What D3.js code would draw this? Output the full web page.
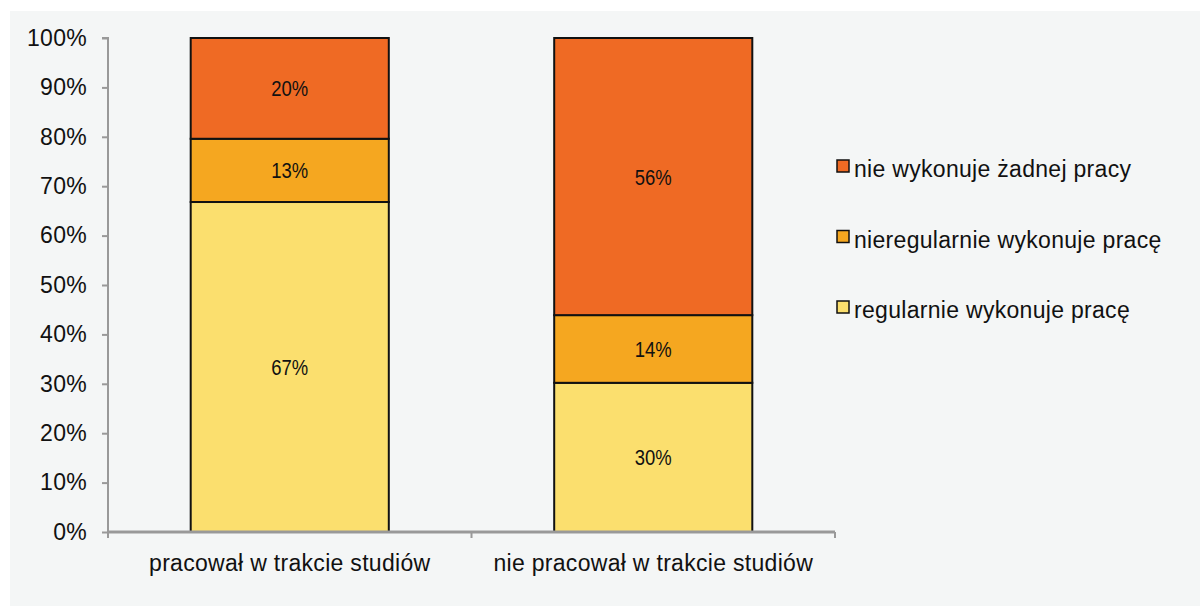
<!DOCTYPE html>
<html><head><meta charset="utf-8">
<script src="https://cdn.jsdelivr.net/npm/d3@7"></script>
<style>html,body{margin:0;padding:0;background:#fff;}</style>
</head><body>
<svg id="c" width="1200" height="606"></svg>
<script>
const categories = ["pracował w trakcie studiów", "nie pracował w trakcie studiów"];
const seriesNames = ["regularnie wykonuje pracę", "nieregularnie wykonuje pracę", "nie wykonuje żadnej pracy"];
const regular = [66.8, 30.2];
const irregular = [12.8, 13.7];
const none = [20.4, 56.1];
const labelsRegular = ["67%", "30%"];
const labelsIrregular = ["13%", "14%"];
const labelsNone = ["20%", "56%"];
const yTicks = [0, 10, 20, 30, 40, 50, 60, 70, 80, 90, 100];
const colors = ["#fbdf6e", "#f5a720", "#ef6a24"];

const FONT = "'Liberation Sans', Arial, sans-serif";
const svg = d3.select("#c");
svg.append("rect").attr("x", 10).attr("y", 11).attr("width", 1190).attr("height", 595).attr("fill", "#f4f6f6");

const x0 = 108, x1 = 835, yTop = 38, yBot = 532;
const x = d3.scaleBand().domain(categories).range([x0, x1]).paddingInner(0.455).paddingOuter(0.2275);
const y = d3.scaleLinear().domain([0, 100]).range([yBot, yTop]);

const rows = categories.map((c, i) => ({cat: c, v: [regular[i], irregular[i], none[i]], l: [labelsRegular[i], labelsIrregular[i], labelsNone[i]]}));
const stack = d3.stack().keys([0, 1, 2]).value((d, k) => d.v[k]);
const layers = stack(rows);

const gBars = svg.append("g");
layers.forEach((layer, k) => {
  layer.forEach((seg, i) => {
    gBars.append("rect")
      .attr("x", x(rows[i].cat)).attr("width", x.bandwidth())
      .attr("y", y(seg[1])).attr("height", y(seg[0]) - y(seg[1]))
      .attr("fill", colors[k]).attr("stroke", "#111").attr("stroke-width", 2);
    const cx = x(rows[i].cat) + x.bandwidth() / 2;
    const cy = (y(seg[0]) + y(seg[1])) / 2 + 8;
    gBars.append("g").attr("transform", `translate(${cx},${cy}) scale(0.84,1)`)
      .append("text")
      .attr("text-anchor", "middle")
      .attr("font-family", FONT)
      .attr("font-size", 22).attr("fill", "#111")
      .text(rows[i].l[k]);
  });
});

// Y axis
const yAxis = d3.axisLeft(y).tickValues(yTicks).tickFormat(d => d + "%").tickSize(6).tickPadding(15);
const gy = svg.append("g").attr("transform", `translate(${x0},0)`).call(yAxis);
gy.select(".domain").attr("stroke", "#999").attr("stroke-width", 2).attr("d", `M-6,${yTop}H0V${yBot}`);
gy.selectAll(".tick line").attr("stroke", "#999").attr("stroke-width", 2);
gy.selectAll(".tick text").attr("font-family", FONT).attr("font-size", 23).attr("letter-spacing", 0.3).attr("fill", "#111");

// X axis
const gx = svg.append("g").attr("transform", `translate(0,${yBot})`);
gx.append("line").attr("x1", x0).attr("x2", x1).attr("y1", 0).attr("y2", 0).attr("stroke", "#999").attr("stroke-width", 3);
const xTickPos = [x0, (x0 + x1) / 2, x1];
gx.selectAll("line.t").data(xTickPos).enter().append("line").attr("class", "t")
  .attr("x1", d => d).attr("x2", d => d).attr("y1", 0).attr("y2", 6).attr("stroke", "#999").attr("stroke-width", 2);
gx.selectAll("text").data(categories).enter().append("text")
  .attr("x", d => x(d) + x.bandwidth() / 2).attr("y", 39)
  .attr("text-anchor", "middle")
  .attr("font-family", FONT).attr("font-size", 23).attr("letter-spacing", 0.3).attr("fill", "#111")
  .text(d => d);

// Legend
const legendItems = [2, 1, 0];
const lg = svg.append("g");
legendItems.forEach((k, j) => {
  const ly = 160 + j * 70.5;
  lg.append("rect").attr("x", 837).attr("y", ly).attr("width", 12).attr("height", 12)
    .attr("fill", colors[k]).attr("stroke", "#111").attr("stroke-width", 1.5);
  lg.append("text").attr("x", 854).attr("y", ly + 17)
    .attr("font-family", FONT).attr("font-size", 23).attr("letter-spacing", 0.3).attr("fill", "#111")
    .text(seriesNames[k]);
});
</script>
</body></html>
